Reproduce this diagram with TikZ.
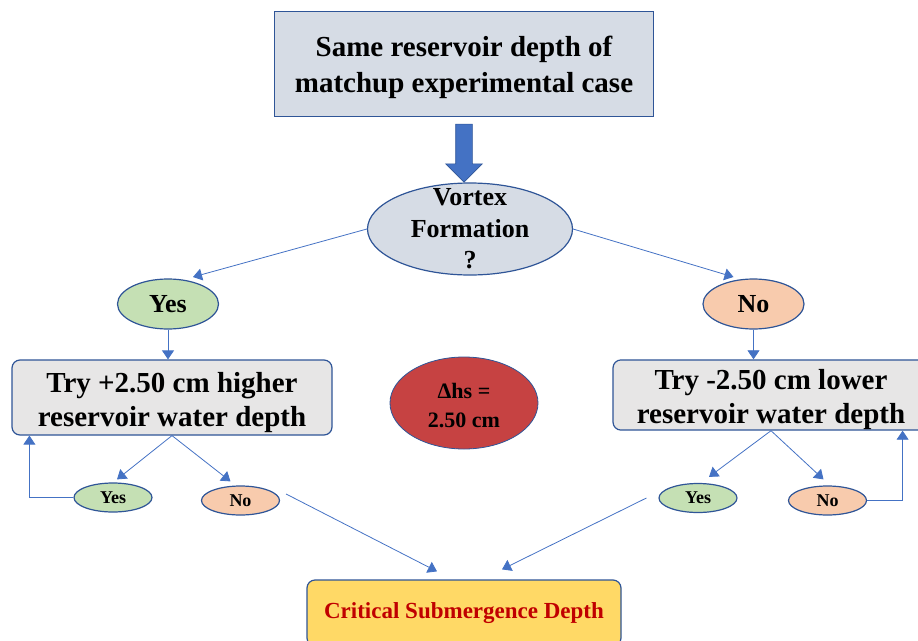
\documentclass[tikz,border=0pt]{standalone}
\usepackage{fontspec}
\setmainfont{Liberation Serif}
\usetikzlibrary{arrows.meta,shapes.geometric,shapes.arrows}

\definecolor{lineblue}{HTML}{4472C4}
\definecolor{frameblue}{HTML}{2F5597}
\definecolor{slate}{HTML}{D6DCE5}
\definecolor{lightgrey}{HTML}{E7E6E6}
\definecolor{yesgreen}{HTML}{C5E0B4}
\definecolor{nopeach}{HTML}{F8CBAD}
\definecolor{deltared}{HTML}{C64242}
\definecolor{gold}{HTML}{FFD966}
\definecolor{darkred}{HTML}{C00000}

\tikzset{
	box/.style={rectangle, draw=frameblue, line width=1.2pt, inner sep=0pt, align=center},
	oval/.style={ellipse, draw=frameblue, line width=1.2pt, inner sep=0pt, align=center},
	flow/.style={draw=lineblue, line width=0.8pt, -{Triangle[length=9pt,width=12pt]}},
}

\begin{document}
\begin{tikzpicture}[x=1pt,y=-1pt]
		\useasboundingbox (0,0) rectangle (918,640);
		
		\node[box, fill=slate, minimum width=379pt, minimum height=105pt, font=\bfseries\fontsize{29}{36}\selectfont] (start) at (464,64) {\rule{0pt}{28pt}Same reservoir depth of\\matchup experimental case};
		\node[single arrow, shape border rotate=270, fill=lineblue, draw=frameblue, line width=0.6pt, minimum height=58pt, inner sep=8pt, single arrow head extend=10pt] (down) at (464,149) {};
		\node[oval, fill=slate, minimum width=205pt, minimum height=92pt, inner ysep=-10pt, font=\bfseries\fontsize{26}{31.5}\selectfont] (vortex) at (470,229) {Vortex\\Formation\\?};
		
		\node[oval, fill=yesgreen, minimum width=101pt, minimum height=50pt, font=\bfseries\fontsize{26}{30}\selectfont] (yes) at (168,304) {Yes};
		\node[oval, fill=nopeach, minimum width=101pt, minimum height=50pt, font=\bfseries\fontsize{26}{30}\selectfont] (no) at (753.5,304) {No};
		
		\node[box, rounded corners=8pt, fill=lightgrey, minimum width=320pt, minimum height=75pt, font=\bfseries\fontsize{29}{34}\selectfont] (tryup) at (172,397.5) {\rule{0pt}{30pt}Try +2.50 cm higher\\reservoir water depth};
		\node[box, rounded corners=8pt, fill=lightgrey, minimum width=316pt, minimum height=70pt, font=\bfseries\fontsize{29}{34}\selectfont] (trydown) at (771,395) {\rule{0pt}{30pt}Try -2.50 cm lower\\reservoir water depth};
		\node[oval, fill=deltared, line width=0.8pt, minimum width=148pt, minimum height=92pt, font=\bfseries\fontsize{22}{29}\selectfont] (delta) at (464,403) {\rule{0pt}{21pt}Δhs =\\2.50 cm};
		
		\node[oval, fill=yesgreen, minimum width=78pt, minimum height=29pt, font=\bfseries\fontsize{18}{20}\selectfont] (yes1) at (113,497.5) {Yes};
		\node[oval, fill=nopeach, minimum width=78pt, minimum height=29pt, font=\bfseries\fontsize{18}{20}\selectfont] (no1) at (240.5,500.5) {No};
		\node[oval, fill=yesgreen, minimum width=78pt, minimum height=29pt, font=\bfseries\fontsize{18}{20}\selectfont] (yes2) at (698,498) {Yes};
		\node[oval, fill=nopeach, minimum width=78pt, minimum height=29pt, font=\bfseries\fontsize{18}{20}\selectfont] (no2) at (827.5,500.5) {No};
		
		\node[box, rounded corners=8pt, fill=gold, minimum width=314pt, minimum height=66pt, text=darkred, font=\bfseries\fontsize{23}{26}\selectfont] (crit) at (464,613) {Critical Submergence Depth};
		
		% free ends of the connectors
		\coordinate (yestip) at ([shift={(25,-27)}]yes.center);
		\coordinate (notip) at ([shift={(-20,-27)}]no.center);
		\coordinate (yes1tip) at ([shift={(4,-3)}]yes1.north);
		\coordinate (no1tip) at ([shift={(-10,-4)}]no1.north);
		\coordinate (yes2tip) at ([shift={(11,-6)}]yes2.north);
		\coordinate (no2tip) at ([shift={(-4,-6)}]no2.north);
		\coordinate (no1out) at ([shift={(6,-6.5)}]no1.east);
		\coordinate (yes2out) at ([shift={(-12,0)}]yes2.west);
		\coordinate (critleft) at ([shift={(-27,-8)}]crit.north);
		\coordinate (critright) at ([shift={(38,-10)}]crit.north);
		
		\foreach \from/\to in {vortex.west/yestip,vortex.east/notip,tryup.south/yes1tip,tryup.south/no1tip,trydown.south/yes2tip,trydown.south/no2tip,no1out/critleft,yes2out/critright}
		\draw[flow] (\from) -- (\to);
		
		\draw[flow] (yes.south) -- (yes.south |- tryup.north);
		\draw[flow] (no.south) -- (no.south |- trydown.north);
		\draw[flow] (yes1.west) -| ([xshift=18pt]tryup.south west);
		\draw[flow] (no2.east) -| ([xshift=-27pt]trydown.south east);
\end{tikzpicture}
\end{document}
